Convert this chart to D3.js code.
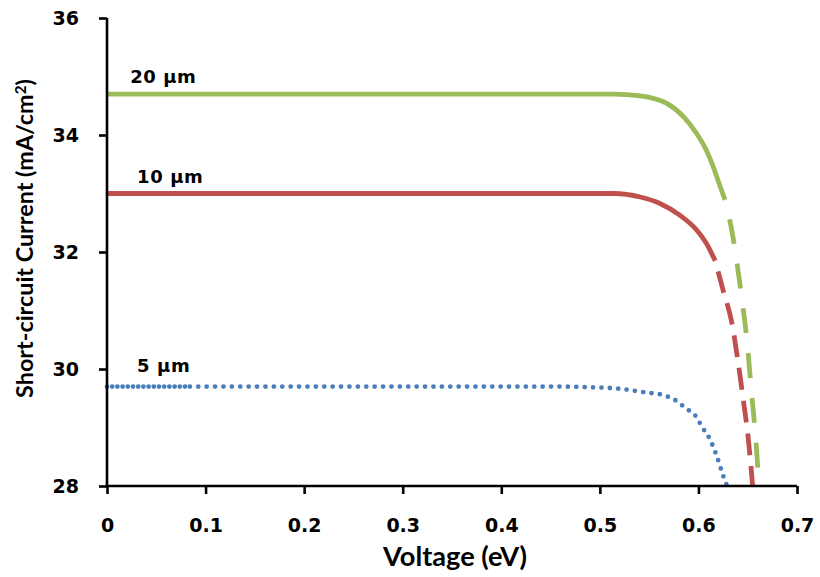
<!DOCTYPE html>
<html>
<head>
<meta charset="utf-8">
<script src="https://cdn.jsdelivr.net/npm/d3@7/dist/d3.min.js"></script>
<style>
  html, body { margin: 0; padding: 0; background: #ffffff; }
  svg { display: block; }
</style>
</head>
<body>
<svg id="chart" width="820" height="577"></svg>
<script>
// ---------- data ----------
const xTicks = [0, 0.1, 0.2, 0.3, 0.4, 0.5, 0.6, 0.7];
const xTickLabels = ["0", "0.1", "0.2", "0.3", "0.4", "0.5", "0.6", "0.7"];
const yTicks = [28, 30, 32, 34, 36];
const yTickLabels = ["28", "30", "32", "34", "36"];

const seriesNames = ["20 \u00b5m", "10 \u00b5m", "5 \u00b5m"];

const voltage20 = [0, 0.514, 0.541, 0.568, 0.585, 0.598, 0.608, 0.615, 0.622, 0.627, 0.635, 0.642, 0.650, 0.654, 0.658, 0.6615];
const current20 = [34.70, 34.70, 34.67, 34.54, 34.31, 34.03, 33.74, 33.46, 33.12, 32.89, 32.26, 31.46, 30.35, 29.58, 28.84, 28.0];

const voltage10 = [0, 0.514, 0.541, 0.561, 0.581, 0.598, 0.608, 0.617, 0.625, 0.634, 0.640, 0.646, 0.650, 0.655];
const current10 = [33.0, 33.0, 32.94, 32.83, 32.63, 32.38, 32.15, 31.85, 31.35, 30.78, 30.15, 29.41, 28.90, 28.0];

const voltage5 = [0, 0.08, 0.45, 0.487, 0.521, 0.546, 0.563, 0.579, 0.587, 0.597, 0.604, 0.611, 0.618, 0.625, 0.629];
const current5 = [29.7, 29.7, 29.7, 29.69, 29.66, 29.60, 29.56, 29.44, 29.33, 29.20, 29.00, 28.82, 28.54, 28.18, 28.0];

// index where the line style changes (solid -> dashed, dense dots -> dots)
const breakIndex = [9, 7, 1];

(function () {
// ---------- layout ----------
const svg = d3.select("#chart");
const pLeft = 107, pRight = 797, pTop = 18, pBottom = 486;

const x = d3.scaleLinear().domain([0, 0.7]).range([pLeft, pRight]);
const y = d3.scaleLinear().domain([28, 36]).range([pBottom, pTop]);

const tickFont = "'DejaVu Sans', Verdana, sans-serif";
const titleFont = "Lato, 'Open Sans', sans-serif";

// ---------- series ----------
const colors = ["#9BBB59", "#C0504D", "#4A7EBB"];
const toPoints = (vs, cs) => vs.map((v, i) => [v, cs[i]]);
const series = [toPoints(voltage20, current20), toPoints(voltage10, current10), toPoints(voltage5, current5)];

const line = d3.line()
  .x(d => x(d[0]))
  .y(d => y(d[1]))
  .curve(d3.curveMonotoneX);

const g = svg.append("g");

// green and red: solid flat part, dashed steep part
[0, 1].forEach(k => {
  const pts = series[k];
  const b = breakIndex[k];
  g.append("path")
    .attr("d", line(pts.slice(0, b + 1)))
    .attr("fill", "none")
    .attr("stroke", colors[k])
    .attr("stroke-width", 4.8)
    .attr("stroke-linejoin", "round");
  const dash = k === 0 ? [25, 20] : [22, 11];
  g.append("path")
    .attr("d", line(pts.slice(b)))
    .attr("fill", "none")
    .attr("stroke", colors[k])
    .attr("stroke-width", 4.8)
    .attr("stroke-dasharray", dash.join(","))
    .attr("stroke-dashoffset", dash[0]);
});

// blue: round dots
{
  const pts = series[2];
  const b = breakIndex[2];
  g.append("path")
    .attr("d", line(pts.slice(0, b + 1)))
    .attr("fill", "none")
    .attr("stroke", colors[2])
    .attr("stroke-width", 4.8)
    .attr("stroke-linecap", "round")
    .attr("stroke-dasharray", "0,5.2");
  g.append("path")
    .attr("d", line(pts.slice(b)))
    .attr("fill", "none")
    .attr("stroke", colors[2])
    .attr("stroke-width", 4.8)
    .attr("stroke-linecap", "round")
    .attr("stroke-dasharray", "0,8.4")
    .attr("stroke-dashoffset", -4);
}

// ---------- axes ----------
const xAxis = d3.axisBottom(x)
  .tickValues(xTicks)
  .tickFormat((d, i) => xTickLabels[i])
  .tickSize(8)
  .tickSizeOuter(0)
  .tickPadding(25);

const yAxis = d3.axisLeft(y)
  .tickValues(yTicks)
  .tickFormat((d, i) => yTickLabels[i])
  .tickSize(8)
  .tickSizeOuter(0)
  .tickPadding(20);

const gx = svg.append("g").attr("transform", `translate(0,${pBottom})`).call(xAxis);
const gy = svg.append("g").attr("transform", `translate(${pLeft},0)`).call(yAxis);

[gx, gy].forEach(ax => {
  ax.select(".domain").attr("stroke", "#000").attr("stroke-width", 2.6);
  ax.selectAll(".tick line").attr("stroke", "#000").attr("stroke-width", 2.6);
  ax.selectAll(".tick text")
    .attr("fill", "#000")
    .style("font-family", tickFont)
    .style("font-weight", "bold")
    .style("font-size", "19px");
});
gx.select(".domain").attr("d", `M${pLeft - 1.3},0H${pRight}`);
gy.select(".domain").attr("d", `M0,${pTop}V${pBottom + 1.3}`);

// ---------- axis titles ----------
function fitWidth(sel, target) {
  const w = sel.node().getComputedTextLength();
  const fs = parseFloat(sel.style("font-size"));
  sel.style("font-size", (fs * target / w) + "px");
}

const xTitle = svg.append("text")
  .attr("x", 455)
  .attr("y", 566)
  .attr("text-anchor", "middle")
  .style("font-family", titleFont)
  .style("font-weight", "bold")
  .style("font-size", "20px")
  .attr("fill", "#000")
  .text("Voltage (eV)");
fitWidth(xTitle, 144);

const yTitle = svg.append("text")
  .attr("transform", "translate(33,238.5) rotate(-90)")
  .attr("text-anchor", "middle")
  .style("font-family", titleFont)
  .style("font-weight", "bold")
  .style("font-size", "20px")
  .attr("fill", "#000");
yTitle.append("tspan").text("Short-circuit Current (mA/cm");
yTitle.append("tspan").attr("dy", "-0.45em").style("font-size", "0.65em").text("2");
yTitle.append("tspan").attr("dy", "0.29em").text(")");
fitWidth(yTitle, 319);

// ---------- series labels ----------
const labelPos = [[0.0235, 34.7], [0.0305, 33.0], [0.0305, 29.7]];
const labelOffset = [11, 10.5, 14.5];
seriesNames.forEach((name, i) => {
  svg.append("text")
    .attr("x", x(labelPos[i][0]))
    .attr("y", y(labelPos[i][1]) - labelOffset[i])
    .style("font-family", tickFont)
    .style("font-weight", "bold")
    .style("font-size", "18px")
    .style("letter-spacing", "0.6px")
    .attr("fill", "#000")
    .text(name);
});
})();
</script>
</body>
</html>
